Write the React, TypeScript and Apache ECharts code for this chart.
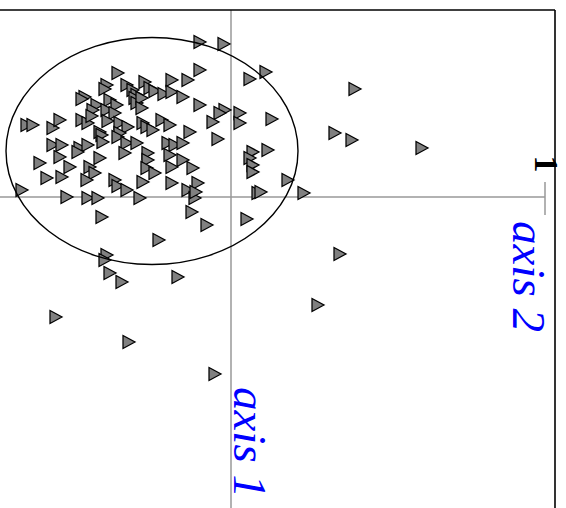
import React, { useEffect, useRef } from "react";
import * as echarts from "echarts";

// Scores on the two plotted axes: [horizontal, vertical]
const mainCloud: [number, number][] = [
  [-3.1, 12.7], [-4.3, 11.7], [-5.9, 11.7], [-8.6, 11.5], [-11.3, 12.4], [-12.4, 11.2],
  [-12.6, 10.8], [-10.4, 11.2], [-9.8, 10.7], [-9.4, 10.2], [-8.1, 10.9], [-7.6, 10.6],
  [-6.7, 10.3], [-5.9, 10.5], [-4.8, 10.0], [-3.1, 9.2], [-14.6, 10.0], [-14.9, 9.8],
  [-13.4, 9.2], [-12.1, 9.7], [-11.4, 9.2], [-9.6, 9.9], [-9.4, 9.4], [-8.9, 9.9],
  [-13.8, 8.7], [-12.4, 8.7], [-11.6, 8.4], [-8.9, 8.9],
  [-20.4, 7.2], [-19.8, 7.2], [-17.8, 6.9], [-17.1, 7.7], [-14.9, 7.7], [-14.3, 7.4],
  [-13.9, 8.1], [-12.3, 7.6], [-11.1, 7.4], [-10.3, 7.0], [-8.8, 7.4], [-8.4, 7.0],
  [-7.8, 6.7], [-6.9, 7.7], [-6.1, 7.2], [-4.1, 6.5],
  [-13.1, 6.5], [-11.1, 6.4], [-17.8, 5.2], [-16.9, 5.2], [-15.1, 4.9], [-14.3, 5.2],
  [-12.9, 6.2], [-12.8, 5.5], [-11.3, 6.0], [-10.4, 5.4], [-9.4, 5.4], [-6.3, 5.4],
  [-5.6, 5.2], [-4.8, 5.4],
  [-17.1, 4.0], [-15.3, 4.5], [-13.1, 3.9], [-10.6, 4.4], [-8.3, 4.4], [-8.3, 3.7],
  [-6.1, 4.2], [-4.8, 3.7],
  [-19.1, 3.4], [-16.1, 3.0], [-16.9, 2.0], [-18.4, 1.9], [-14.1, 3.0], [-13.6, 2.4],
  [-14.4, 1.7], [-8.4, 2.9], [-7.6, 2.4], [-5.9, 3.0], [-3.8, 2.9],
  [-11.6, 1.7], [-11.3, 1.1], [-10.4, 0.7], [-8.8, 1.5], [-5.9, 1.4], [-4.3, 0.7],
  [-3.3, 1.4], [-20.9, 0.7], [-16.4, 0.0], [-14.3, -0.1], [-13.3, -0.1], [-9.1, -0.1],
  [-3.6, -0.1], [-3.5, 0.5],
];

const rightOfAxis: [number, number][] = [
  [4.1, 7.8], [0.9, 8.4], [0.9, 7.4], [-0.6, 8.7], [-1.1, 8.4], [-1.8, 7.5], [-1.3, 5.8],
  [2.2, 4.5], [3.7, 4.7], [1.9, 3.9], [2.2, 3.2], [2.2, 2.5], [5.7, 1.7], [2.7, 0.4],
  [3.0, 0.5],
];

const outliers: [number, number][] = [
  [-3.1, 15.5], [-0.7, 15.3], [1.9, 11.8], [3.5, 12.5], [12.4, 10.8], [10.4, 6.4],
  [12.1, 5.7], [19.1, 4.9], [7.3, 0.4], [10.9, -5.7], [8.7, -10.8], [-17.5, -12.0],
  [-10.2, -14.5], [-1.6, -17.7], [-7.2, -4.3], [-5.3, -8.0], [-10.9, -8.5], [-12.1, -7.6],
  [-12.4, -5.8], [-12.6, -6.3], [-12.9, -2.0], [-3.9, -1.5], [-2.4, -2.8], [1.6, -2.2],
];

const axisLabels = ["axis 1", "axis 2"];
const tickLabels = ["1"];

// Ellipse: center and semi-axes in data units
const ellipseCenter: [number, number] = [-7.9, 4.6];
const ellipseRadii: [number, number] = [14.6, 11.35];

const X_MIN = -23.1;
const X_MAX = 33.5;
const Y_MIN = -31.1;
const Y_MAX = 19.7;

export default function App() {
  const ref = useRef<HTMLDivElement>(null);
  useEffect(() => {
    if (!ref.current) return;
    const chart = echarts.init(ref.current, null, { renderer: "svg" });
    const points = [...mainCloud, ...rightOfAxis, ...outliers];
    chart.setOption({
      animation: false,
      backgroundColor: "#ffffff",
      grid: { left: 0, right: 0, top: 0, bottom: 0, containLabel: false },
      xAxis: { type: "value", min: X_MIN, max: X_MAX, show: false },
      yAxis: { type: "value", min: Y_MIN, max: Y_MAX, show: false },
      series: [
        {
          type: "scatter",
          data: points,
          symbol: "triangle",
          symbolRotate: -90,
          symbolSize: [13, 12],
          itemStyle: { color: "#808080", borderColor: "#000000", borderWidth: 1.3, opacity: 1 },
          z: 5,
        },
      ],
    });
    const P = (x: number, y: number) => chart.convertToPixel({ gridIndex: 0 }, [x, y]) as number[];
    const c = P(ellipseCenter[0], ellipseCenter[1]);
    const ex = P(ellipseCenter[0] + ellipseRadii[0], ellipseCenter[1]);
    const ey = P(ellipseCenter[0], ellipseCenter[1] + ellipseRadii[1]);
    const frameRight = 32.4;
    const frameTop = 18.7;
    const axis2End = 31.4;
    const tl = P(X_MIN, frameTop);
    const tr = P(frameRight, frameTop);
    const br = P(frameRight, Y_MIN);
    const h0 = P(X_MIN, 0);
    const h1 = P(axis2End, 0);
    const tk0 = P(axis2End, 1.5);
    const tk1 = P(axis2End, -1.8);
    const v0 = P(0, frameTop);
    const v1 = P(0, Y_MIN);
    const a1 = P(1.9, -19.0);
    const a2 = P(29.8, -2.4);
    const t1 = P(31.5, 3.3);
    const grey = "#999999";
    const labelFont = {
      fontFamily: "Liberation Serif",
      fontStyle: "italic",
      fontSize: 47,
      fill: "#0000ff",
      textAlign: "left",
      textVerticalAlign: "middle",
    };
    chart.setOption({
      graphic: [
        { type: "line", z: 1, shape: { x1: h0[0], y1: h0[1], x2: h1[0], y2: h1[1] }, style: { stroke: grey, lineWidth: 1.5 } },
        { type: "line", z: 1, shape: { x1: tk0[0], y1: tk0[1], x2: tk1[0], y2: tk1[1] }, style: { stroke: grey, lineWidth: 1.5 } },
        { type: "line", z: 1, shape: { x1: v0[0], y1: v0[1], x2: v1[0], y2: v1[1] }, style: { stroke: grey, lineWidth: 1.5 } },
        { type: "line", z: 20, shape: { x1: tl[0], y1: tl[1], x2: tr[0], y2: tr[1] }, style: { stroke: "#000", lineWidth: 1.6 } },
        { type: "line", z: 20, shape: { x1: tr[0], y1: tr[1], x2: br[0], y2: br[1] }, style: { stroke: "#000", lineWidth: 1.6 } },
        {
          type: "ellipse",
          z: 20,
          shape: { cx: c[0], cy: c[1], rx: Math.abs(ex[0] - c[0]), ry: Math.abs(ey[1] - c[1]) },
          style: { fill: "none", stroke: "#000", lineWidth: 1.4 },
        },
        { type: "text", z: 20, x: a1[0], y: a1[1], rotation: -Math.PI / 2, style: { ...labelFont, text: axisLabels[0] } },
        { type: "text", z: 20, x: a2[0], y: a2[1], rotation: -Math.PI / 2, style: { ...labelFont, text: axisLabels[1] } },
        {
          type: "text",
          z: 20,
          x: t1[0],
          y: t1[1],
          rotation: -Math.PI / 2,
          style: {
            text: tickLabels[0],
            fontFamily: "Liberation Serif",
            fontSize: 34,
            fontWeight: "bold",
            fill: "#000",
            textAlign: "center",
            textVerticalAlign: "middle",
          },
        },
      ],
    });
    return () => chart.dispose();
  }, []);
  return <div ref={ref} style={{ position: "absolute", left: 0, top: 0, width: 566, height: 508 }} />;
}
